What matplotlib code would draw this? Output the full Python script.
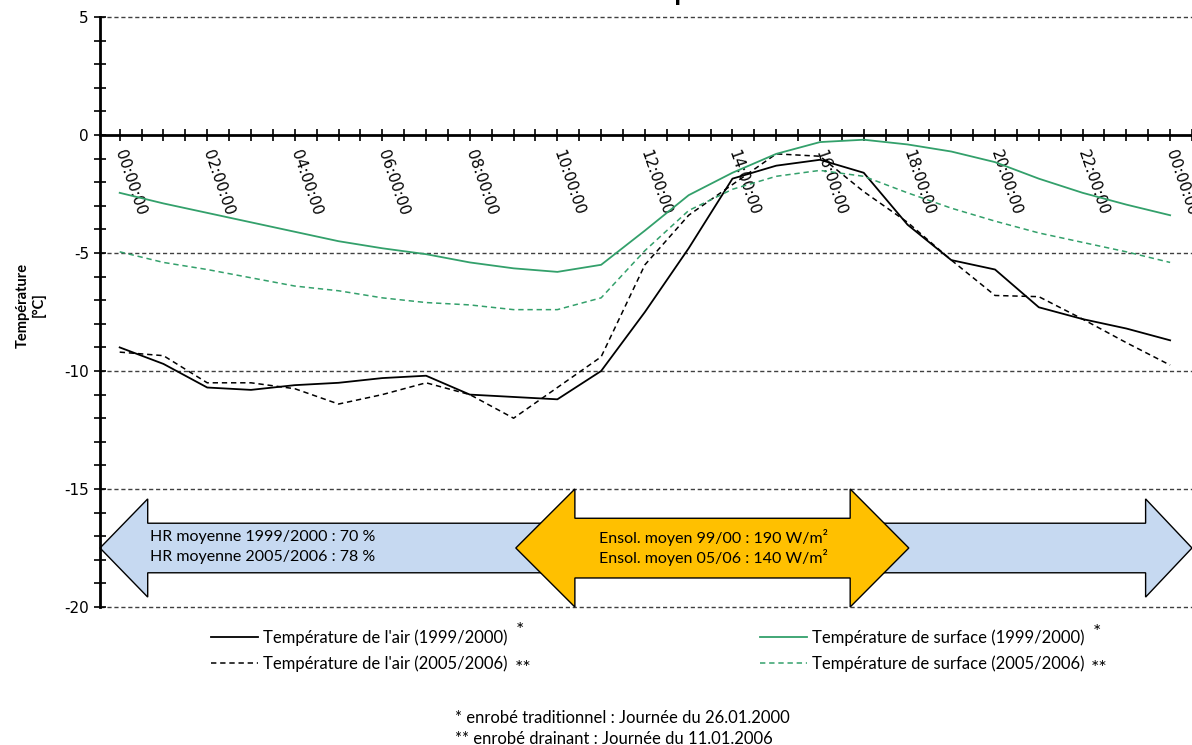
import numpy as np
import matplotlib.pyplot as plt
from matplotlib.patches import Polygon
from matplotlib.ticker import FixedLocator, MultipleLocator

plt.rcParams['axes.unicode_minus'] = False
plt.rcParams['font.family'] = ['DejaVu Sans']
police = ['Lato', 'DejaVu Sans']

heures = np.arange(25)
heures_labels = np.arange(0, 25, 2)
labels_x = ["%02d:00:00" % (h % 24) for h in heures_labels]

# températures
air_1999 = [-9.0, -9.7, -10.7, -10.8, -10.6, -10.5, -10.3, -10.2, -11.0, -11.1, -11.2, -10.0,
            -7.5, -4.8, -1.85, -1.3, -1.05, -1.6, -3.8, -5.3, -5.7, -7.3, -7.8, -8.2, -8.7]
air_2005 = [-9.2, -9.35, -10.5, -10.5, -10.75, -11.4, -11.0, -10.5, -11.0, -12.0, -10.7, -9.4,
            -5.5, -3.4, -2.1, -0.8, -0.9, -2.4, -3.7, -5.3, -6.8, -6.85, -7.8, -8.8, -9.75]
surf_1999 = [-2.45, -2.9, -3.3, -3.7, -4.1, -4.5, -4.8, -5.05, -5.4, -5.65, -5.8, -5.5,
             -4.05, -2.55, -1.6, -0.8, -0.3, -0.2, -0.4, -0.7, -1.15, -1.85, -2.45, -2.95, -3.4]
surf_2005 = [-4.95, -5.4, -5.7, -6.05, -6.4, -6.6, -6.9, -7.1, -7.2, -7.4, -7.4, -6.9,
             -4.9, -3.2, -2.3, -1.75, -1.5, -1.75, -2.45, -3.1, -3.65, -4.15, -4.55, -4.95, -5.4]

vert = '#33A06B'

fig = plt.figure(figsize=(11.92, 7.45), dpi=100)
ax = fig.add_axes([100 / 1192, 138 / 745, 1092 / 1192, 590 / 745])
ax.set_xlim(-0.45, 24.5)
ax.set_ylim(-20, 5)

# flèches (HR et ensoleillement)
bleu = Polygon([(-0.45, -17.5), (0.64, -15.42), (0.64, -16.45), (23.44, -16.45), (23.44, -15.42),
                (24.5, -17.5), (23.44, -19.58), (23.44, -18.55), (0.64, -18.55), (0.64, -19.58)],
               closed=True, facecolor='#C6D9F1', edgecolor='black', lw=1, zorder=1, clip_on=False)
ax.add_patch(bleu)
orange = Polygon([(9.05, -17.5), (10.4, -15.0), (10.4, -16.24), (16.69, -16.24), (16.69, -15.0),
                  (18.03, -17.5), (16.69, -20.0), (16.69, -18.77), (10.4, -18.77), (10.4, -20.0)],
                 closed=True, facecolor='#FFC000', edgecolor='black', lw=1, zorder=1.5, clip_on=False)
ax.add_patch(orange)
ax.text(0.7, -17.05, "HR moyenne 1999/2000 : 70 %", family=police, fontsize=11.5, va='center', zorder=3)
ax.text(0.7, -17.9, "HR moyenne 2005/2006 : 78 %", family=police, fontsize=11.5, va='center', zorder=3)
ax.text(10.95, -17.05, "Ensol. moyen 99/00 : 190 W/m²", family=police, fontsize=11.5, va='center', zorder=3)
ax.text(10.95, -17.9, "Ensol. moyen 05/06 : 140 W/m²", family=police, fontsize=11.5, va='center', zorder=3)

l1, = ax.plot(heures, air_1999, color='black', lw=1.3, label="Température de l'air (1999/2000)", zorder=4)
l2, = ax.plot(heures, air_2005, color='black', lw=1.1, ls=(0, (3.5, 2.5)), label="Température de l'air (2005/2006)", zorder=4)
l3, = ax.plot(heures, surf_1999, color=vert, lw=1.3, label="Température de surface (1999/2000)", zorder=4)
l4, = ax.plot(heures, surf_2005, color=vert, lw=1.1, ls=(0, (3.5, 2.5)), label="Température de surface (2005/2006)", zorder=4)

# axes
for s in ['top', 'right']:
    ax.spines[s].set_visible(False)
ax.spines['bottom'].set_position(('data', 0))
ax.spines['bottom'].set_linewidth(2)
ax.spines['left'].set_linewidth(2)
for y in [5, -5, -10, -15, -20]:
    ax.axhline(y, ls=(0, (3, 2)), color='#404040', lw=1, zorder=0, clip_on=False)

ax.xaxis.set_major_locator(FixedLocator(heures_labels))
ax.xaxis.set_minor_locator(FixedLocator(np.arange(-0.5, 24.6, 0.5)))
ax.set_xticklabels(labels_x, rotation=-71, ha='left', va='center', rotation_mode='anchor',
                   fontsize=11, family='DejaVu Sans')
ax.yaxis.set_major_locator(MultipleLocator(5))
ax.yaxis.set_minor_locator(MultipleLocator(1))
ax.tick_params(axis='both', which='both', direction='inout', length=8, width=1.2)
ax.tick_params(axis='y', labelsize=11, pad=4)
ax.tick_params(axis='x', pad=7)

fig.text(31 / 1192, 1 - 305 / 745, "Température\n[°C]", rotation=90, ha='center', va='center',
         family=police, fontsize=10.5, fontweight='bold', linespacing=1.15)

# titre coupé en haut, comme dans l'original
fig.text(0.51, 1.0, "Evolution de la température", ha='center', va='baseline',
         family=police, fontsize=20, fontweight='bold')

leg1 = fig.legend(handles=[l1, l2], loc='center left', bbox_to_anchor=(211 / 1192, 1 - 650.5 / 745),
                  frameon=False, prop={'family': police, 'size': 12}, handlelength=2.8,
                  handletextpad=0.3, labelspacing=0.6, borderpad=0, borderaxespad=0)
leg2 = fig.legend(handles=[l3, l4], loc='center left', bbox_to_anchor=(760 / 1192, 1 - 650.5 / 745),
                  frameon=False, prop={'family': police, 'size': 12}, handlelength=2.8,
                  handletextpad=0.3, labelspacing=0.6, borderpad=0, borderaxespad=0)

for x, y, t in [(520, 631, "*"), (523, 668, "**"), (1097, 633, "*"), (1099, 668, "**")]:
    fig.text(x / 1192, 1 - y / 745, t, ha='center', va='center', family=police, fontsize=14)

fig.text(455 / 1192, 1 - 718 / 745, "* enrobé traditionnel : Journée du 26.01.2000",
         family=police, fontsize=12, va='center')
fig.text(455 / 1192, 1 - 739 / 745, "** enrobé drainant : Journée du 11.01.2006",
         family=police, fontsize=12, va='center')

fig.savefig('out.png', dpi=100)
